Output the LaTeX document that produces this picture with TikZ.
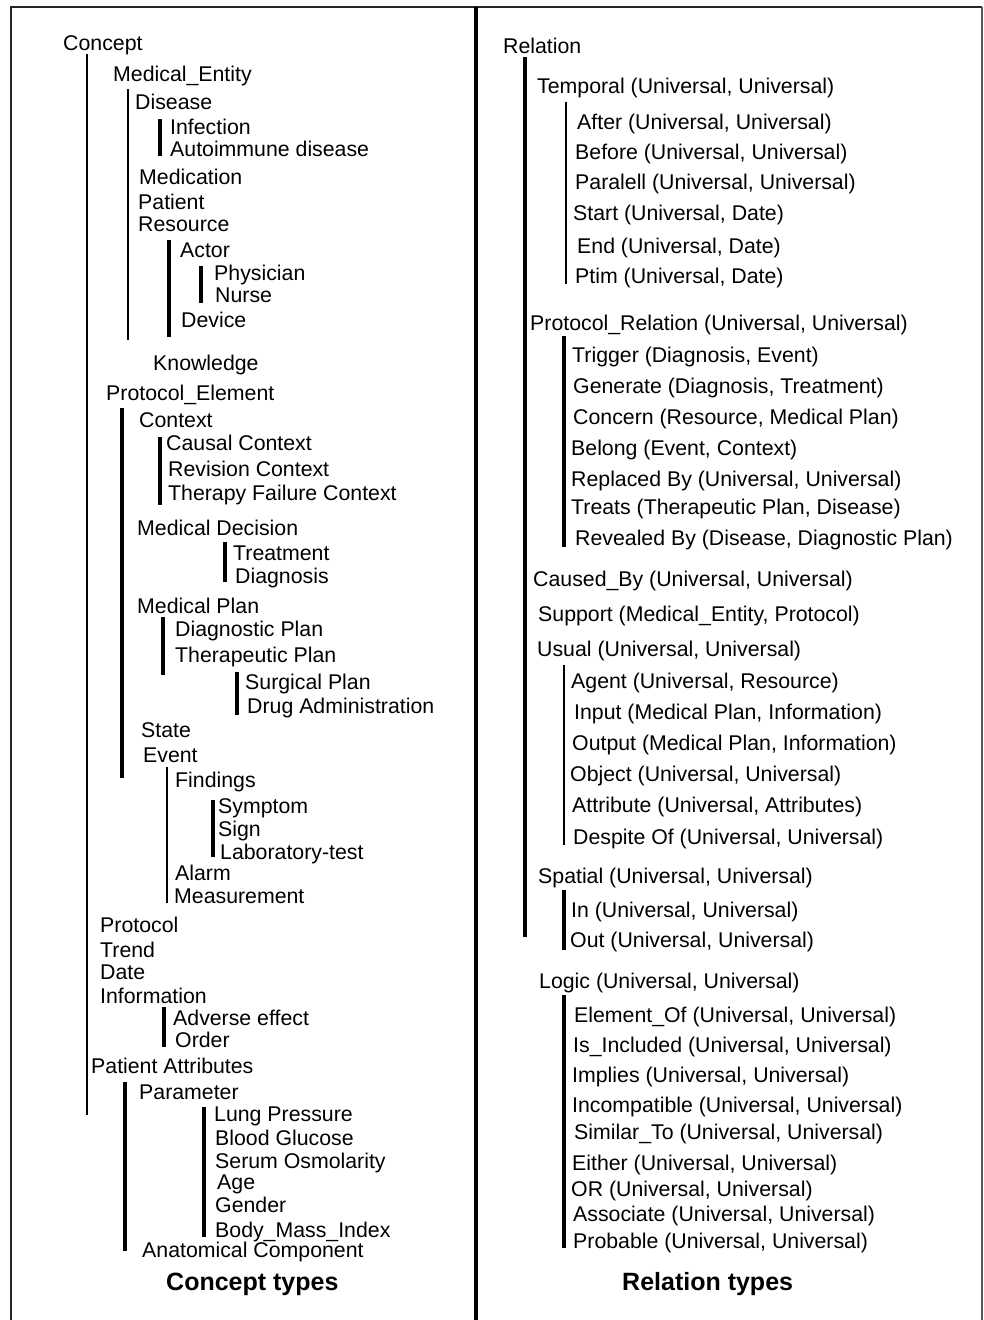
\documentclass[tikz,border=0pt]{standalone}
\usepackage{fontspec}
\setmainfont{Liberation Sans}
\usepackage{tikz}
\tikzstyle{item}=[anchor=base west,inner sep=0pt,font=\fontsize{21.3}{24}\selectfont]
\tikzstyle{heading}=[anchor=base west,inner sep=0pt,font=\bfseries\fontsize{25}{28}\selectfont]
\tikzstyle{bar}=[draw,line width=3.4pt]
\tikzstyle{thinbar}=[draw,line width=2.3pt]
\tikzstyle{frame}=[draw,line width=2.2pt,black!85]

\begin{document}
\begin{tikzpicture}[x=1pt,y=-1pt]
				\useasboundingbox (0,0) rectangle (983,1320);

				% First we draw the frame and the divider
				\path[frame] (11,1320) -- (11,7) -- (982,7);
				\path[frame,line width=1.6pt,black!65] (982,7) -- (982,1320);
				\path[frame,line width=3.2pt,black] (476,7) -- (476,1320);

				% Concept hierarchy
				\foreach \pos/\name/\txt in {{(63,50)/concept/Concept}, {(113,81)/medent/Medical\_Entity},
										{(135,109)/disease/Disease}, {(170,134)/infection/Infection},
										{(170,156)/autoimm/Autoimmune disease}, {(139,184)/medication/Medication},
										{(138,209)/patient/Patient}, {(138,231)/resource/Resource},
										{(180,257)/actor/Actor}, {(214,280)/physician/Physician},
										{(215,302)/nurse/Nurse}, {(181,327)/device/Device},
										{(153,370)/knowledge/Knowledge}, {(106,400)/protel/Protocol\_Element},
										{(139,427)/context/Context}, {(166,450)/causal/Causal Context},
										{(168,476)/revision/Revision Context}, {(168,500)/therfail/Therapy Failure Context},
										{(137,535)/meddec/Medical Decision}, {(233,560)/treatment/Treatment},
										{(235,583)/diagnosis/Diagnosis}, {(137,613)/medplan/Medical Plan},
										{(175,636)/diagplan/Diagnostic Plan}, {(175,662)/therplan/Therapeutic Plan},
										{(245,689)/surgplan/Surgical Plan}, {(247,713)/drugadm/Drug Administration},
										{(141,737)/state/State}, {(143,762)/event/Event},
										{(175,787)/findings/Findings}, {(218,813)/symptom/Symptom},
										{(218,836)/sign/Sign}, {(220,859)/labtest/Laboratory-test},
										{(175,880)/alarm/Alarm}, {(174,903)/measure/Measurement},
										{(100,932)/protocol/Protocol}, {(100,957)/trend/Trend},
										{(100,979)/date/Date}, {(100,1003)/information/Information},
										{(173,1025)/adverse/Adverse effect}, {(175,1047)/order/Order},
										{(91,1073)/patattr/Patient Attributes}, {(139,1099)/parameter/Parameter},
										{(214,1121)/lung/Lung Pressure}, {(215,1145)/glucose/Blood Glucose},
										{(215,1168)/serum/Serum Osmolarity}, {(217,1189)/age/Age},
										{(215,1212)/gender/Gender}, {(215,1237)/bmi/Body\_Mass\_Index},
										{(142,1257)/anatom/Anatomical Component}}
				\node[item] (\name) at \pos {\txt};

				% Relation hierarchy
				\foreach \pos/\name/\txt in {{(503,53)/relation/Relation}, {(537,93)/temporal/{Temporal (Universal, Universal)}},
										{(577,129)/after/{After (Universal, Universal)}}, {(575,159)/before/{Before (Universal, Universal)}},
										{(575,189)/paralell/{Paralell (Universal, Universal)}}, {(573,220)/start/{Start (Universal, Date)}},
										{(577,253)/end/{End (Universal, Date)}}, {(575,283)/ptim/{Ptim (Universal, Date)}},
										{(530,330)/protrel/{Protocol\_Relation (Universal, Universal)}},
										{(572,362)/trigger/{Trigger (Diagnosis, Event)}}, {(573,393)/generate/{Generate (Diagnosis, Treatment)}},
										{(573,424)/concern/{Concern (Resource, Medical Plan)}}, {(571,455)/belong/{Belong (Event, Context)}},
										{(571,486)/replaced/{Replaced By (Universal, Universal)}}, {(571,514)/treats/{Treats (Therapeutic Plan, Disease)}},
										{(575,545)/revealed/{Revealed By (Disease, Diagnostic Plan)}},
										{(533,586)/causedby/{Caused\_By (Universal, Universal)}}, {(538,621)/support/{Support (Medical\_Entity, Protocol)}},
										{(537,656)/usual/{Usual (Universal, Universal)}}, {(571,688)/agent/{Agent (Universal, Resource)}},
										{(574,719)/input/{Input (Medical Plan, Information)}}, {(572,750)/output/{Output (Medical Plan, Information)}},
										{(570,781)/object/{Object (Universal, Universal)}}, {(572,812)/attribute/{Attribute (Universal, Attributes)}},
										{(573,844)/despite/{Despite Of (Universal, Universal)}}, {(538,883)/spatial/{Spatial (Universal, Universal)}},
										{(571,917)/in/{In (Universal, Universal)}}, {(570,947)/out/{Out (Universal, Universal)}},
										{(539,988)/logic/{Logic (Universal, Universal)}}, {(574,1022)/elemof/{Element\_Of (Universal, Universal)}},
										{(573,1052)/included/{Is\_Included (Universal, Universal)}}, {(572,1082)/implies/{Implies (Universal, Universal)}},
										{(572,1112)/incompat/{Incompatible (Universal, Universal)}}, {(574,1139)/similar/{Similar\_To (Universal, Universal)}},
										{(572,1170)/either/{Either (Universal, Universal)}}, {(571,1196)/or/{OR (Universal, Universal)}},
										{(573,1221)/associate/{Associate (Universal, Universal)}}, {(573,1248)/probable/{Probable (Universal, Universal)}}}
				\node[item] (\name) at \pos {\txt};

				% Column titles
				\node[heading] (concepttypes) at (166,1290) {Concept types};
				\node[heading] (relationtypes) at (622,1290) {Relation types};

				% Then the bars that group the children of each entry
				\foreach \x/\ya/\yb in {87/54/1115, 128/89/340, 167/767/903, 566/102/284, 564/665/845}
				\path[thinbar] (\x,\ya) -- (\x,\yb);

				\foreach \x/\ya/\yb in {160/119/156, 169/240/337, 201/266/303, 122/408/778, 160/437/505,
										225/542/582, 163/617/675, 237/672/715, 213/800/857, 164/1007/1047,
										125/1082/1251, 204/1107/1237, 525/57/937, 564/336/547, 564/890/950, 564/995/1248}
				\path[bar] (\x,\ya) -- (\x,\yb);

			\end{tikzpicture}
\end{document}
